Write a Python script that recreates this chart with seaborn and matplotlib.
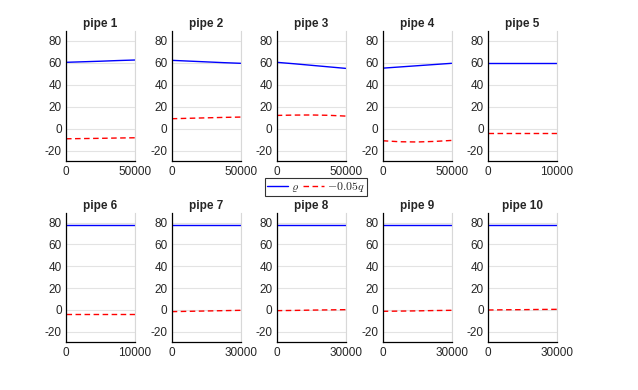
import matplotlib.pyplot as plt
import seaborn as sns
import pandas as pd

sns.set_style("whitegrid")
plt.rcParams['font.family'] = ['Liberation Sans', 'DejaVu Sans']
plt.rcParams['mathtext.fontset'] = 'cm'
plt.rcParams['axes.unicode_minus'] = False

# ---------------------------------------------------
# Data
# ---------------------------------------------------

pipes = ["pipe 1", "pipe 2", "pipe 3", "pipe 4", "pipe 5",
         "pipe 6", "pipe 7", "pipe 8", "pipe 9", "pipe 10"]

x_max = [50000, 50000, 50000, 50000, 10000,
         10000, 30000, 30000, 30000, 30000]

frac = [0.0, 0.25, 0.5, 0.75, 1.0]

rho = [
    [60.3, 60.8, 61.3, 61.9, 62.4],
    [62.1, 61.4, 60.7, 60.0, 59.4],
    [60.3, 59.0, 57.6, 56.2, 54.8],
    [55.0, 56.1, 57.2, 58.3, 59.4],
    [60.0, 60.0, 60.0, 60.0, 60.0],
    [78.2, 78.2, 78.2, 78.2, 78.2],
    [78.2, 78.2, 78.2, 78.2, 78.2],
    [78.2, 78.2, 78.2, 78.2, 78.2],
    [78.2, 78.2, 78.2, 78.2, 78.2],
    [78.2, 78.2, 78.2, 78.2, 78.2],
]

neg_q = [
    [-9.1, -8.9, -8.7, -8.4, -8.2],
    [9.1, 9.5, 9.9, 10.3, 10.6],
    [12.1, 12.4, 12.5, 12.2, 11.5],
    [-10.9, -11.8, -12.0, -11.5, -10.6],
    [-3.6, -3.6, -3.6, -3.6, -3.6],
    [-3.3, -3.3, -3.3, -3.3, -3.3],
    [-1.5, -1.2, -0.9, -0.6, -0.3],
    [-0.6, -0.4, -0.1, 0.1, 0.3],
    [-1.2, -1.0, -0.8, -0.5, -0.3],
    [0.0, 0.2, 0.3, 0.5, 0.6],
]

y_ticks = [-20, 0, 20, 40, 60, 80]

# ---------------------------------------------------
# Figure
# ---------------------------------------------------

W, H = 638, 390
fig = plt.figure(figsize=(W / 100, H / 100), dpi=100)

lefts = [66, 171.7, 276.7, 382.7, 488]
rows = [(30.7, 160.7), (212.7, 341.7)]
aw = 69

axes = []
for i, name in enumerate(pipes):
    r, c = divmod(i, 5)
    top, bot = rows[r]
    ax = fig.add_axes([lefts[c] / W, 1 - bot / H, aw / W, (bot - top) / H])
    axes.append(ax)

    xs = [f * x_max[i] for f in frac]
    df = pd.DataFrame({"x": xs, "rho": rho[i], "q": neg_q[i]})

    sns.lineplot(data=df, x="x", y="rho", ax=ax, color="#0000ff",
                 linewidth=1.0, label=r"$\varrho$")
    sns.lineplot(data=df, x="x", y="q", ax=ax, color="#ff0000",
                 linewidth=1.0, linestyle=(0, (4, 2.5)), label=r"$-0.05q$")

    ax.set_xlim(0, x_max[i])
    ax.set_ylim(-29, 89)
    ax.set_xticks([0, x_max[i]])
    ax.set_yticks(y_ticks)
    ax.set_xlabel("")
    ax.set_ylabel("")
    ax.set_title(name, fontsize=8.5, fontweight="bold", pad=3)

    ax.grid(True, color="#e3e3e3", linewidth=0.8)
    ax.spines["top"].set_visible(False)
    ax.spines["right"].set_color("#d8d8d8")
    ax.spines["right"].set_linewidth(0.8)
    for s in ["left", "bottom"]:
        ax.spines[s].set_color("black")
        ax.spines[s].set_linewidth(0.9)
    ax.tick_params(axis="both", direction="in", length=2, width=0.6,
                   labelsize=8.5, colors="#262626", pad=3)
    ax.tick_params(axis="x", pad=4)
    ax.set_facecolor("white")
    ax.get_legend().remove()

handles, labels = axes[2].get_legend_handles_labels()
leg = fig.legend(handles, labels, loc="center",
                 bbox_to_anchor=(316 / W, 1 - 187 / H),
                 ncol=2, fontsize=8.5, frameon=True, fancybox=False,
                 edgecolor="black", handlelength=1.8, handletextpad=0.25,
                 columnspacing=0.3, borderpad=0.15, borderaxespad=0)
leg.get_frame().set_linewidth(0.8)

fig.savefig("out.png", dpi=100)
